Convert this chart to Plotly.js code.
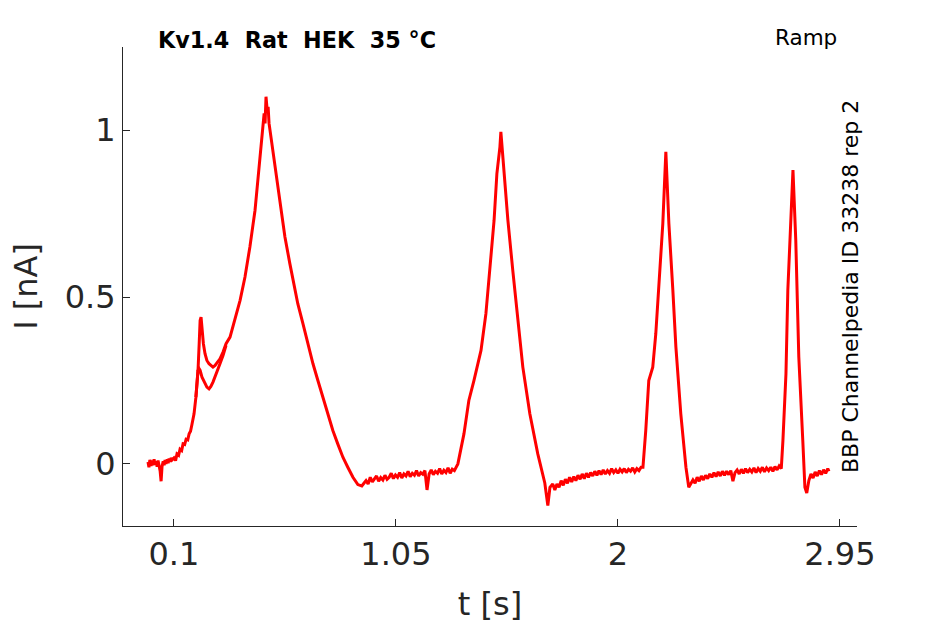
<!DOCTYPE html>
<html>
<head>
<meta charset="utf-8">
<script src="https://cdn.plot.ly/plotly-3.0.1.min.js"></script>
<style>
html,body{margin:0;padding:0;background:#fff;}
#chart{width:945px;height:624px;}
</style>
</head>
<body>
<div id="chart"></div>
<script>
// Sweep 1 (full recording, time in s, current in nA)
const tSweep1 = [
 -0.011,-0.007,-0.003,0.002,0.006,0.011,0.015,0.019,0.023,0.028,0.032,0.036,0.041,0.045,0.049,0.054,0.058,0.062,0.066,0.071,0.075,0.079,0.083,0.088,0.092,
 0.100,0.107,0.113,0.120,0.126,0.133,0.139,0.146,0.152,0.159,0.165,0.171,0.177,0.186,0.194,0.203,
 0.208,0.212,0.216,0.220,0.226,0.233,0.241,0.250,0.258,0.267,0.276,0.288,0.297,
 0.310,0.323,0.340,0.361,0.383,0.404,0.425,0.447,0.460,0.472,0.481,0.486,0.490,0.494,0.499,0.503,0.507,0.511,
 0.524,0.537,0.554,0.575,0.596,0.609,0.630,0.652,0.673,0.695,0.716,0.737,0.759,0.780,0.801,0.823,0.844,0.866,0.887,
 0.904,0.913,0.922,0.931,0.940,0.949,0.958,0.967,0.976,0.985,0.994,1.003,1.012,1.021,1.030,1.039,1.048,1.057,1.066,1.075,1.084,1.093,1.102,1.111,1.120,1.129,1.138,1.147,1.156,1.165,1.174,1.183,1.192,1.201,1.210,1.219,1.228,1.237,1.246,1.255,1.264,1.273,1.282,1.291,1.300,1.308,
 1.315,1.341,1.362,1.384,1.414,1.435,1.452,1.470,1.482,1.495,1.499,1.508,1.529,1.550,1.572,1.593,1.623,1.657,1.687,1.700,1.709,1.721,
 1.730,1.739,1.748,1.757,1.766,1.775,1.784,1.793,1.802,1.811,1.820,1.829,1.838,1.847,1.856,1.865,1.874,1.883,1.892,1.901,1.910,1.919,1.928,1.937,1.946,1.955,1.964,1.973,1.982,1.991,2.000,2.009,2.018,2.027,2.036,2.045,2.054,2.063,2.072,2.081,2.090,2.099,
 2.107,2.119,2.132,2.149,2.162,2.175,2.192,2.205,2.218,2.235,2.248,2.269,2.291,2.303,
 2.312,2.321,2.330,2.339,2.348,2.357,2.366,2.375,2.384,2.393,2.402,2.411,2.420,2.429,2.438,2.447,2.456,2.465,2.474,2.483,2.492,2.501,2.510,2.519,2.528,2.537,2.546,2.555,2.564,2.573,2.582,2.591,2.600,2.609,2.618,2.627,2.636,2.645,2.654,2.663,2.672,2.681,2.690,2.699,
 2.706,2.719,2.727,2.740,2.749,2.761,2.774,2.791,2.800,2.808,2.817,
 2.826,2.835,2.844,2.853,2.862,2.871,2.880,2.889,2.898,2.903
];
const iSweep1 = [
 0.006,-0.010,0.012,-0.006,0.010,-0.004,0.014,-0.002,0.008,-0.008,0.010,-0.004,-0.022,-0.052,-0.008,0.008,-0.004,0.012,0.000,0.014,0.002,0.016,0.006,0.018,0.012,
 0.018,0.010,0.030,0.026,0.044,0.040,0.060,0.058,0.074,0.072,0.090,0.098,0.118,0.150,0.200,0.280,
 0.360,0.430,0.440,0.400,0.360,0.330,0.310,0.300,0.295,0.290,0.295,0.305,0.315,
 0.335,0.360,0.380,0.430,0.490,0.560,0.650,0.760,0.850,0.940,1.000,1.050,1.020,1.100,1.060,1.070,1.020,1.000,
 0.930,0.860,0.780,0.680,0.600,0.550,0.480,0.420,0.360,0.300,0.250,0.200,0.150,0.100,0.060,0.020,-0.010,-0.040,-0.062,
 -0.066,-0.058,-0.050,-0.060,-0.040,-0.054,-0.045,-0.036,-0.052,-0.041,-0.048,-0.034,-0.046,-0.040,-0.028,-0.044,-0.033,-0.040,-0.026,-0.042,-0.030,-0.036,-0.022,-0.038,-0.028,-0.034,-0.020,-0.036,-0.026,-0.031,-0.020,-0.078,-0.030,-0.018,-0.032,-0.022,-0.028,-0.014,-0.030,-0.019,-0.026,-0.012,-0.028,-0.016,-0.020,-0.008,
 0.000,0.090,0.190,0.250,0.340,0.450,0.580,0.730,0.870,0.950,0.995,0.910,0.730,0.580,0.430,0.290,0.150,0.030,-0.057,-0.125,-0.070,-0.060,
 -0.078,-0.060,-0.070,-0.050,-0.064,-0.046,-0.058,-0.040,-0.054,-0.038,-0.050,-0.034,-0.046,-0.030,-0.044,-0.028,-0.040,-0.026,-0.036,-0.022,-0.034,-0.020,-0.032,-0.018,-0.030,-0.020,-0.028,-0.014,-0.026,-0.018,-0.028,-0.016,-0.024,-0.014,-0.026,-0.016,-0.022,-0.012,-0.024,-0.014,-0.020,-0.010,
 -0.010,0.100,0.250,0.290,0.390,0.540,0.720,0.935,0.720,0.520,0.350,0.150,-0.010,-0.070,
 -0.060,-0.048,-0.058,-0.040,-0.052,-0.036,-0.048,-0.034,-0.044,-0.030,-0.040,-0.026,-0.038,-0.024,-0.036,-0.022,-0.034,-0.022,-0.032,-0.020,-0.052,-0.026,-0.018,-0.030,-0.016,-0.028,-0.014,-0.026,-0.016,-0.024,-0.012,-0.026,-0.014,-0.022,-0.010,-0.024,-0.012,-0.020,-0.010,-0.022,-0.008,-0.018,-0.006,-0.014,
 0.070,0.270,0.520,0.720,0.880,0.670,0.320,0.070,-0.070,-0.087,-0.050,
 -0.030,-0.042,-0.024,-0.036,-0.020,-0.032,-0.018,-0.028,-0.014,-0.022
];
// Sweep 2 (only where it departs from sweep 1: the first transient)
const tSweep2 = [0.194,0.203,0.208,0.212,0.220,0.229,0.241,0.250,0.258,0.267,0.276,0.288,0.297,0.310,0.323];
const iSweep2 = [0.200,0.280,0.285,0.280,0.260,0.245,0.230,0.225,0.232,0.245,0.260,0.280,0.300,0.325,0.355];

const xTicks = [0.1, 1.05, 2, 2.95];
const xTickText = ['0.1', '1.05', '2', '2.95'];
const yTicks = [0, 0.5, 1];
const yTickText = ['0', '0.5', '1'];

const axisColor = '#262626';
const font = 'DejaVu Sans, sans-serif';

const traces = [
  {x: tSweep1, y: iSweep1, type: 'scatter', mode: 'lines', line: {color: '#ff0000', width: 3}, hoverinfo: 'skip'},
  {x: tSweep2, y: iSweep2, type: 'scatter', mode: 'lines', line: {color: '#ff0000', width: 3}, hoverinfo: 'skip'}
];

const layout = {
  width: 945, height: 624,
  margin: {l: 123, r: 88, t: 47, b: 98},
  paper_bgcolor: '#ffffff', plot_bgcolor: '#ffffff',
  showlegend: false,
  font: {family: font, color: axisColor},
  title: {
    text: '<b>Kv1.4 \u00a0Rat \u00a0HEK \u00a035 °C</b>',
    font: {family: font, size: 22.3, color: '#000000'},
    xref: 'container', x: 297/945, xanchor: 'center',
    yref: 'container', y: 1 - 40/624, yanchor: 'middle'
  },
  xaxis: {
    range: [-0.118, 3.023],
    tickvals: xTicks, ticktext: xTickText,
    ticks: 'inside', ticklen: 7, tickwidth: 1, tickcolor: axisColor,
    showline: true, linecolor: axisColor, linewidth: 1,
    showgrid: false, zeroline: false,
    tickfont: {family: font, size: 32, color: axisColor},
    title: {text: 't [s]', font: {family: font, size: 32, color: axisColor}, standoff: 20}
  },
  yaxis: {
    range: [-0.186, 1.249],
    tickvals: yTicks, ticktext: yTickText,
    ticks: 'inside', ticklen: 7, tickwidth: 1, tickcolor: axisColor,
    showline: true, linecolor: axisColor, linewidth: 1,
    showgrid: false, zeroline: false,
    tickfont: {family: font, size: 32, color: axisColor},
    title: {text: 'I [nA]', font: {family: font, size: 32, color: axisColor}, standoff: 17}
  },
  annotations: [
    {text: 'Ramp', xref: 'paper', yref: 'paper', x: (839-123)/734, xanchor: 'right',
     y: 1 + (47-38)/479, yanchor: 'middle', showarrow: false,
     font: {family: font, size: 21.5, color: '#000000'}},
    {text: 'BBP Channelpedia ID 33238 rep 2', xref: 'paper', yref: 'paper',
     x: (850-123)/734, xanchor: 'center', y: (526-287)/479, yanchor: 'middle',
     textangle: -90, showarrow: false,
     font: {family: font, size: 22, color: '#000000'}}
  ]
};

Plotly.newPlot('chart', traces, layout, {displayModeBar: false, staticPlot: true});
</script>
</body>
</html>
